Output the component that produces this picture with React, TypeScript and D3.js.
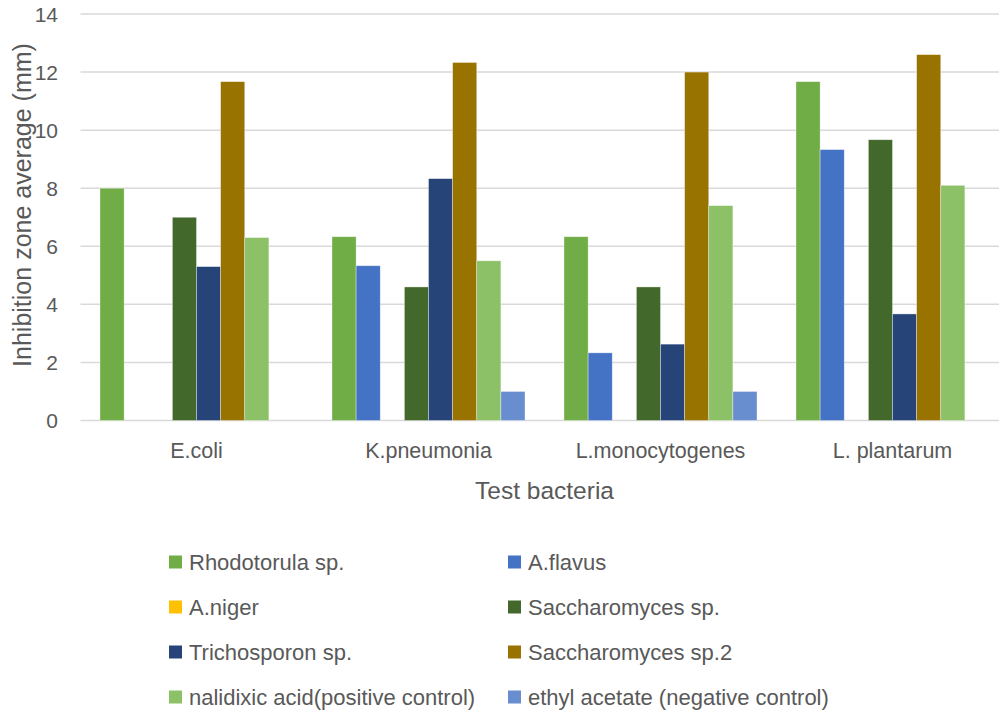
import React from "react";
import * as d3 from "d3";

const categories = ["E.coli", "K.pneumonia", "L.monocytogenes", "L. plantarum"];
const seriesNames = [
  "Rhodotorula sp.",
  "A.flavus",
  "A.niger",
  "Saccharomyces sp.",
  "Trichosporon sp.",
  "Saccharomyces sp.2",
  "nalidixic acid(positive control)",
  "ethyl acetate (negative control)",
];
const seriesColors = ["#70AD47", "#4472C4", "#FFC000", "#43682B", "#264478", "#997300", "#8CC168", "#698ED0"];
// values per series, in category order
const rhodotorula = [8, 6.33, 6.33, 11.67];
const aFlavus = [0, 5.33, 2.33, 9.33];
const aNiger = [0, 0, 0, 0];
const saccharomyces = [7, 4.6, 4.6, 9.67];
const trichosporon = [5.3, 8.33, 2.63, 3.67];
const saccharomyces2 = [11.67, 12.33, 12, 12.6];
const nalidixic = [6.3, 5.5, 7.4, 8.1];
const ethylAcetate = [0, 1, 1, 0];
const seriesValues = [rhodotorula, aFlavus, aNiger, saccharomyces, trichosporon, saccharomyces2, nalidixic, ethylAcetate];
const yTicks = [0, 2, 4, 6, 8, 10, 12, 14];

const W = 999;
const H = 713;
const FONT = "'Liberation Sans', Arial, sans-serif";
const TXT = "#595959";

export default function App() {
  const y = d3.scaleLinear().domain([0, 14]).range([420.5, 14]);
  const x0 = d3.scaleBand<string>().domain(categories).range([80.5, 1008.5]).paddingInner(0).paddingOuter(0);
  const bw = x0.bandwidth();
  const gap = bw * 0.084;
  const x1 = d3.scaleBand<string>().domain(seriesNames).range([gap, bw - gap]).padding(0);

  const legendCols = [169, 508];
  const legendRows = [562, 607, 652, 697];

  return (
    <svg width={W} height={H} style={{ position: "absolute", left: 0, top: 0, background: "#fff" }} fontFamily={FONT}>
      <rect x={0} y={0} width={W} height={H} fill="#fff" />
      {yTicks.map((t) => (
        <g key={t}>
          <line x1={80.5} x2={1008.5} y1={y(t)} y2={y(t)} stroke="#D9D9D9" strokeWidth={1.5} />
          <text x={58} y={y(t)} textAnchor="end" dominantBaseline="central" fontSize={21} fill={TXT}>
            {t}
          </text>
        </g>
      ))}
      {categories.map((c, ci) => (
        <g key={c}>
          {seriesNames.map((s, si) => {
            const v = seriesValues[si][ci];
            if (!v) return null;
            return (
              <rect
                key={s}
                x={(x0(c) as number) + (x1(s) as number)}
                y={y(v)}
                width={x1.bandwidth()}
                height={y(0) - y(v)}
                fill={seriesColors[si]}
                stroke="#ffffff"
                strokeOpacity={0.5}
                strokeWidth={0.7}
              />
            );
          })}
          <text x={(x0(c) as number) + bw / 2} y={451} textAnchor="middle" dominantBaseline="central" fontSize={21.5} fill={TXT}>
            {c}
          </text>
        </g>
      ))}
      <text x={544.5} y={490} textAnchor="middle" dominantBaseline="central" fontSize={24.5} fill={TXT}>
        Test bacteria
      </text>
      <text
        transform={`translate(22,205) rotate(-90)`}
        textAnchor="middle"
        dominantBaseline="central"
        fontSize={25}
        fill={TXT}
      >
        Inhibition zone average (mm)
      </text>
      {seriesNames.map((s, i) => {
        const cx = legendCols[i % 2];
        const cy = legendRows[Math.floor(i / 2)];
        return (
          <g key={s}>
            <rect x={cx} y={cy - 6.5} width={13} height={13} fill={seriesColors[i]} />
            <text x={cx + 20} y={cy} dominantBaseline="central" fontSize={22} fill={TXT}>
              {s}
            </text>
          </g>
        );
      })}
    </svg>
  );
}
